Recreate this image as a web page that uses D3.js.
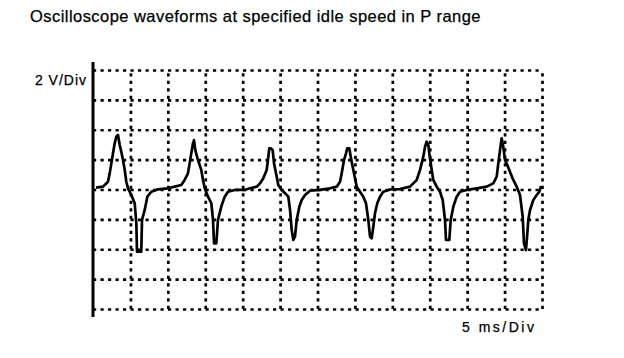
<!DOCTYPE html>
<html>
<head>
<meta charset="utf-8">
<script src="https://cdn.jsdelivr.net/npm/d3@7"></script>
<style>
  body { margin: 0; background: #fff; }
  svg text { font-family: "Liberation Sans", Arial, sans-serif; fill: #000; stroke: #000; stroke-width: 0.25px; }
</style>
</head>
<body>
<script>
var titleText = "Oscilloscope waveforms at specified idle speed in P range";
var voltsLabel = "2 V/Div";
var timeLabel = "5 ms/Div";

// grid divisions: 5 ms and 2 V per division
var timeTicks = [0, 5, 10, 15, 20, 25, 30, 35, 40, 45, 50, 55, 60];
var voltTicks = [-8, -6, -4, -2, 0, 2, 4, 6, 8];

// trace (ms, V)
var traceMs = [
  0.40, 1.34, 2.00, 2.23, 2.67, 2.90, 3.11, 3.34, 3.57, 3.78, 4.01, 4.24, 4.45, 4.68,
  5.12, 5.57, 5.79, 5.88, 6.45, 6.55, 6.91, 7.26, 7.79, 8.69, 10.02, 10.92, 11.80,
  12.25, 12.69, 13.06, 13.36, 13.50, 13.67, 14.03, 14.47, 14.70, 14.93, 15.37, 15.81,
  16.04, 16.17, 16.48, 16.70, 17.14, 17.60, 18.04, 18.94, 20.27, 20.98, 21.87, 22.32,
  22.76, 23.21, 23.43, 23.56, 23.75, 24.01, 24.19, 24.55, 24.76, 25.22, 25.66, 26.10,
  26.33, 26.55, 26.77, 26.99, 27.22, 27.57, 27.89, 28.33, 29.00, 30.33, 31.67, 32.57,
  33.01, 33.23, 33.54, 33.81, 33.98, 34.25, 34.44, 34.70, 35.01, 35.24, 35.68, 36.12,
  36.48, 36.79, 37.02, 37.24, 37.46, 37.68, 37.99, 38.35, 38.79, 39.69, 41.02, 42.36,
  42.80, 43.26, 43.70, 44.14, 44.37, 44.59, 44.81, 44.94, 45.26, 45.47, 45.93, 46.37,
  46.73, 47.04, 47.17, 47.61, 47.80, 48.15, 48.60, 49.04, 49.94, 51.27, 52.61, 53.49,
  53.95, 54.16, 54.39, 54.61, 54.83, 55.06, 55.36, 55.72, 56.16, 56.62, 57.06, 57.42,
  57.59, 57.86, 58.04, 58.17, 58.40, 58.84, 59.29, 59.64, 59.87
];
var traceVolts = [
  0.13, 0.19, 0.52, 1.08, 2.42, 3.09, 3.53, 3.65, 2.98, 2.53, 1.97, 1.31, 0.52, 0.08,
  -0.37, -0.92, -2.26, -4.16, -4.16, -2.04, -1.37, -0.48, -0.15, 0.01, 0.08, 0.19, 0.30,
  0.64, 1.08, 2.20, 3.09, 3.31, 2.64, 1.97, 1.31, 0.64, 0.08, -0.48, -0.92,
  -2.04, -3.60, -3.60, -2.04, -1.15, -0.48, -0.15, -0.03, -0.03, 0.08, 0.19, 0.41,
  0.75, 1.31, 2.20, 2.76, 2.76, 2.64, 1.75, 0.86, 0.30, -0.03, -0.25, -0.48,
  -1.37, -2.71, -3.38, -3.16, -2.04, -1.15, -0.70, -0.37, -0.08, -0.03, 0.08, 0.19,
  0.52, 1.08, 1.97, 2.42, 2.76, 2.76, 2.20, 1.53, 0.75, 0.19, -0.15, -0.48,
  -0.92, -2.04, -3.16, -3.27, -2.49, -1.59, -0.92, -0.48, -0.15, 0.00, 0.03, 0.19,
  0.41, 0.64, 1.31, 2.20, 2.86, 3.20, 2.98, 2.42, 1.31, 0.64, 0.19, -0.15,
  -0.70, -2.04, -3.38, -3.38, -2.04, -1.15, -0.48, -0.15, -0.03, 0.08, 0.19, 0.41,
  0.86, 1.75, 2.64, 3.43, 2.86, 1.97, 1.64, 1.19, 0.64, 0.19, -0.37, -1.82,
  -3.60, -4.05, -2.93, -2.04, -1.37, -0.70, -0.37, -0.15, 0.23
];

main();

function main() {
  setupCanvasSize();
  appendSvg("body");
  setupXScale();
  setupYScale();
  appendGrid();
  appendLeftAxis();
  appendTrace();
  addTitle();
  addDivLabels();
}

function setupCanvasSize() {
  margin = { top: 70, left: 93, bottom: 49, right: 82 };
  width = 624 - margin.left - margin.right;
  height = 358 - margin.top - margin.bottom;
}

function appendSvg(domElement) {
  root = d3.select(domElement).append("svg")
    .attr("width", 624)
    .attr("height", 358);
  root.append("rect").attr("width", 624).attr("height", 358).attr("fill", "#fff");
  svg = root.append("g")
    .attr("transform", `translate(${margin.left}, ${margin.top})`);
}

function setupXScale() {
  x = d3.scaleLinear()
    .range([0, width])
    .domain([timeTicks[0], timeTicks[timeTicks.length - 1]]);
}

function setupYScale() {
  y = d3.scaleLinear()
    .range([height, 0])
    .domain([voltTicks[0], voltTicks[voltTicks.length - 1]]);
}

// dotted graticule, drawn as axes with full-length ticks
function appendGrid() {
  var vGrid = svg.append("g")
    .attr("class", "grid")
    .attr("transform", `translate(0, ${height})`)
    .call(d3.axisBottom(x).tickValues(timeTicks.slice(1)).tickSize(height).tickFormat(""));
  vGrid.selectAll(".tick line").attr("y1", 0).attr("y2", -height);

  var hGrid = svg.append("g")
    .attr("class", "grid")
    .call(d3.axisRight(y).tickValues(voltTicks).tickSize(width).tickFormat(""));

  svg.selectAll(".grid .domain").remove();
  svg.selectAll(".grid .tick line")
    .attr("stroke", "#000")
    .attr("stroke-width", 2.7)
    .attr("stroke-dasharray", "3.2,4.3");
}

function appendLeftAxis() {
  svg.append("line")
    .attr("x1", x(0)).attr("x2", x(0))
    .attr("y1", y(8) - 8).attr("y2", y(-8) + 8)
    .attr("stroke", "#000")
    .attr("stroke-width", 3);
}

function appendTrace() {
  var pts = traceMs.map(function (t, i) { return [t, traceVolts[i]]; });
  var valueline = d3.line()
    .x(function (d) { return x(d[0]); })
    .y(function (d) { return y(d[1]); });
  svg.append("path")
    .datum(pts)
    .attr("d", valueline)
    .attr("fill", "none")
    .attr("stroke", "#000")
    .attr("stroke-width", 2.7)
    .attr("stroke-linejoin", "round");
}

function addTitle() {
  root.append("text")
    .attr("x", 30)
    .attr("y", 22)
    .style("font-size", "16.5px")
    .style("letter-spacing", "0.45px")
    .text(titleText);
}

function addDivLabels() {
  root.append("text")
    .attr("x", 87)
    .attr("y", 84.5)
    .attr("text-anchor", "end")
    .style("font-size", "14px")
    .style("letter-spacing", "1px")
    .text(voltsLabel);

  root.append("text")
    .attr("x", 462)
    .attr("y", 332)
    .style("font-size", "14px")
    .style("letter-spacing", "2.5px")
    .text(timeLabel);
}
</script>
</body>
</html>
